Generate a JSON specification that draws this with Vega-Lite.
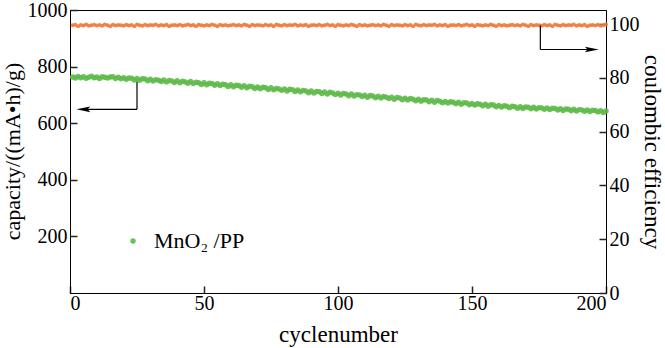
{
"$schema":"https://vega.github.io/schema/vega-lite/v6.json",
"width":536,"height":283,
"autosize":{"type":"none"},
"padding":{"left":70,"top":10,"right":59,"bottom":55},
"background":"white",
"config":{
"font":"Liberation Serif",
"view":{"stroke":"#000","strokeWidth":1},
"axis":{"labelFont":"Liberation Serif","titleFont":"Liberation Serif","labelFontSize":20,"titleFontSize":23,"labelColor":"#000","titleColor":"#000","titleFontWeight":"normal","domainColor":"#000","ticks":true,"tickColor":"#222","tickWidth":1.5,"tickSize":-7,"grid":false,"labelPadding":7,"format":"d"}
},
"datasets":{
"main":[
{"c":1,"cap":763,"ce":99.6},{"c":2,"cap":760,"ce":99.8},{"c":3,"cap":765,"ce":99.3},{"c":4,"cap":761,"ce":99.7},{"c":5,"cap":764,"ce":99.5},{"c":6,"cap":759,"ce":99.9},{"c":7,"cap":762,"ce":99.4},{"c":8,"cap":766,"ce":99.6},{"c":9,"cap":761,"ce":99.8},{"c":10,"cap":763,"ce":99.5},
{"c":11,"cap":758,"ce":99.7},{"c":12,"cap":764,"ce":99.4},{"c":13,"cap":762,"ce":99.9},{"c":14,"cap":760,"ce":99.6},{"c":15,"cap":763,"ce":99.3},{"c":16,"cap":764,"ce":99.8},{"c":17,"cap":758,"ce":99.5},{"c":18,"cap":762,"ce":99.7},{"c":19,"cap":757,"ce":99.6},{"c":20,"cap":761,"ce":99.4},
{"c":21,"cap":755,"ce":99.8},{"c":22,"cap":760,"ce":99.5},{"c":23,"cap":759,"ce":99.7},{"c":24,"cap":753,"ce":99.3},{"c":25,"cap":758,"ce":99.9},{"c":26,"cap":752,"ce":99.6},{"c":27,"cap":757,"ce":99.4},{"c":28,"cap":756,"ce":99.8},{"c":29,"cap":750,"ce":99.5},{"c":30,"cap":755,"ce":99.7},
{"c":31,"cap":749,"ce":99.6},{"c":32,"cap":754,"ce":99.9},{"c":33,"cap":752,"ce":99.4},{"c":34,"cap":747,"ce":99.7},{"c":35,"cap":753,"ce":99.5},{"c":36,"cap":746,"ce":99.8},{"c":37,"cap":751,"ce":99.3},{"c":38,"cap":749,"ce":99.6},{"c":39,"cap":744,"ce":99.7},{"c":40,"cap":750,"ce":99.5},
{"c":41,"cap":743,"ce":99.8},{"c":42,"cap":748,"ce":99.4},{"c":43,"cap":746,"ce":99.6},{"c":44,"cap":741,"ce":99.9},{"c":45,"cap":747,"ce":99.5},{"c":46,"cap":740,"ce":99.7},{"c":47,"cap":745,"ce":99.3},{"c":48,"cap":743,"ce":99.8},{"c":49,"cap":737,"ce":99.6},{"c":50,"cap":743,"ce":99.4},
{"c":51,"cap":736,"ce":99.7},{"c":52,"cap":741,"ce":99.5},{"c":53,"cap":740,"ce":99.9},{"c":54,"cap":734,"ce":99.6},{"c":55,"cap":739,"ce":99.3},{"c":56,"cap":733,"ce":99.8},{"c":57,"cap":738,"ce":99.5},{"c":58,"cap":736,"ce":99.7},{"c":59,"cap":730,"ce":99.4},{"c":60,"cap":736,"ce":99.6},
{"c":61,"cap":729,"ce":99.8},{"c":62,"cap":734,"ce":99.5},{"c":63,"cap":733,"ce":99.7},{"c":64,"cap":727,"ce":99.4},{"c":65,"cap":732,"ce":99.9},{"c":66,"cap":725,"ce":99.6},{"c":67,"cap":731,"ce":99.3},{"c":68,"cap":729,"ce":99.8},{"c":69,"cap":723,"ce":99.5},{"c":70,"cap":728,"ce":99.7},
{"c":71,"cap":722,"ce":99.6},{"c":72,"cap":727,"ce":99.4},{"c":73,"cap":725,"ce":99.8},{"c":74,"cap":719,"ce":99.5},{"c":75,"cap":725,"ce":99.7},{"c":76,"cap":718,"ce":99.3},{"c":77,"cap":723,"ce":99.9},{"c":78,"cap":721,"ce":99.6},{"c":79,"cap":716,"ce":99.4},{"c":80,"cap":721,"ce":99.8},
{"c":81,"cap":714,"ce":99.5},{"c":82,"cap":720,"ce":99.7},{"c":83,"cap":718,"ce":99.6},{"c":84,"cap":712,"ce":99.9},{"c":85,"cap":717,"ce":99.4},{"c":86,"cap":711,"ce":99.7},{"c":87,"cap":716,"ce":99.5},{"c":88,"cap":714,"ce":99.8},{"c":89,"cap":708,"ce":99.3},{"c":90,"cap":714,"ce":99.6},
{"c":91,"cap":707,"ce":99.7},{"c":92,"cap":712,"ce":99.5},{"c":93,"cap":711,"ce":99.8},{"c":94,"cap":705,"ce":99.4},{"c":95,"cap":710,"ce":99.6},{"c":96,"cap":703,"ce":99.9},{"c":97,"cap":709,"ce":99.5},{"c":98,"cap":707,"ce":99.7},{"c":99,"cap":701,"ce":99.3},{"c":100,"cap":706,"ce":99.8},
{"c":101,"cap":700,"ce":99.6},{"c":102,"cap":705,"ce":99.4},{"c":103,"cap":703,"ce":99.7},{"c":104,"cap":697,"ce":99.5},{"c":105,"cap":703,"ce":99.9},{"c":106,"cap":696,"ce":99.6},{"c":107,"cap":701,"ce":99.3},{"c":108,"cap":700,"ce":99.8},{"c":109,"cap":694,"ce":99.5},{"c":110,"cap":699,"ce":99.7},
{"c":111,"cap":692,"ce":99.4},{"c":112,"cap":698,"ce":99.6},{"c":113,"cap":696,"ce":99.8},{"c":114,"cap":690,"ce":99.5},{"c":115,"cap":695,"ce":99.7},{"c":116,"cap":689,"ce":99.4},{"c":117,"cap":694,"ce":99.9},{"c":118,"cap":692,"ce":99.6},{"c":119,"cap":687,"ce":99.3},{"c":120,"cap":692,"ce":99.8},
{"c":121,"cap":685,"ce":99.5},{"c":122,"cap":691,"ce":99.7},{"c":123,"cap":689,"ce":99.6},{"c":124,"cap":683,"ce":99.4},{"c":125,"cap":688,"ce":99.8},{"c":126,"cap":682,"ce":99.5},{"c":127,"cap":687,"ce":99.7},{"c":128,"cap":685,"ce":99.3},{"c":129,"cap":679,"ce":99.9},{"c":130,"cap":685,"ce":99.6},
{"c":131,"cap":678,"ce":99.4},{"c":132,"cap":683,"ce":99.8},{"c":133,"cap":682,"ce":99.5},{"c":134,"cap":676,"ce":99.7},{"c":135,"cap":681,"ce":99.6},{"c":136,"cap":674,"ce":99.9},{"c":137,"cap":680,"ce":99.4},{"c":138,"cap":678,"ce":99.7},{"c":139,"cap":672,"ce":99.5},{"c":140,"cap":677,"ce":99.8},
{"c":141,"cap":671,"ce":99.3},{"c":142,"cap":676,"ce":99.6},{"c":143,"cap":674,"ce":99.7},{"c":144,"cap":669,"ce":99.5},{"c":145,"cap":674,"ce":99.8},{"c":146,"cap":667,"ce":99.4},{"c":147,"cap":672,"ce":99.6},{"c":148,"cap":671,"ce":99.9},{"c":149,"cap":665,"ce":99.5},{"c":150,"cap":670,"ce":99.7},
{"c":151,"cap":664,"ce":99.3},{"c":152,"cap":669,"ce":99.8},{"c":153,"cap":667,"ce":99.6},{"c":154,"cap":662,"ce":99.4},{"c":155,"cap":667,"ce":99.7},{"c":156,"cap":660,"ce":99.5},{"c":157,"cap":665,"ce":99.9},{"c":158,"cap":664,"ce":99.6},{"c":159,"cap":658,"ce":99.3},{"c":160,"cap":663,"ce":99.8},
{"c":161,"cap":657,"ce":99.5},{"c":162,"cap":662,"ce":99.7},{"c":163,"cap":660,"ce":99.4},{"c":164,"cap":655,"ce":99.6},{"c":165,"cap":660,"ce":99.8},{"c":166,"cap":658,"ce":99.5},{"c":167,"cap":653,"ce":99.7},{"c":168,"cap":658,"ce":99.4},{"c":169,"cap":652,"ce":99.9},{"c":170,"cap":657,"ce":99.6},
{"c":171,"cap":656,"ce":99.3},{"c":172,"cap":651,"ce":99.8},{"c":173,"cap":656,"ce":99.5},{"c":174,"cap":650,"ce":99.7},{"c":175,"cap":655,"ce":99.6},{"c":176,"cap":654,"ce":99.4},{"c":177,"cap":649,"ce":99.8},{"c":178,"cap":654,"ce":99.5},{"c":179,"cap":648,"ce":99.7},{"c":180,"cap":653,"ce":99.3},
{"c":181,"cap":652,"ce":99.9},{"c":182,"cap":647,"ce":99.6},{"c":183,"cap":651,"ce":99.4},{"c":184,"cap":645,"ce":99.8},{"c":185,"cap":650,"ce":99.5},{"c":186,"cap":649,"ce":99.7},{"c":187,"cap":644,"ce":99.6},{"c":188,"cap":649,"ce":99.9},{"c":189,"cap":643,"ce":99.4},{"c":190,"cap":648,"ce":99.7},
{"c":191,"cap":647,"ce":99.5},{"c":192,"cap":642,"ce":99.8},{"c":193,"cap":647,"ce":99.3},{"c":194,"cap":641,"ce":99.6},{"c":195,"cap":646,"ce":99.7},{"c":196,"cap":645,"ce":99.5},{"c":197,"cap":640,"ce":99.8},{"c":198,"cap":644,"ce":99.4},{"c":199,"cap":638,"ce":99.6},{"c":200,"cap":643,"ce":99.9}
],
"leftArrow":[{"x1":25,"x2":25,"y1":748,"y2":649},{"x1":25,"x2":5,"y1":649,"y2":649}],
"leftHead":[{"x":5,"y":649}],
"rightArrow":[{"x1":175.5,"x2":175.5,"y1":99.5,"y2":90.6},{"x1":175.5,"x2":195,"y1":90.6,"y2":90.6}],
"rightHead":[{"x":194.7,"y":90.6}]
},
"layer":[
{"layer":[
{"data":{"name":"leftArrow"},"mark":{"type":"rule","color":"#000","strokeWidth":1.2},
"encoding":{"x":{"field":"x1","type":"quantitative"},"x2":{"field":"x2"},"y":{"field":"y1","type":"quantitative"},"y2":{"field":"y2"}}},
{"data":{"name":"leftHead"},"mark":{"type":"point","shape":"M-1,0L1,-0.4L0.6,0L1,0.4Z","filled":true,"color":"#000","size":196,"opacity":1},
"encoding":{"x":{"field":"x","type":"quantitative"},"y":{"field":"y","type":"quantitative"}}},
{"data":{"name":"main"},"mark":{"type":"point","filled":true,"shape":"circle","size":30,"opacity":0.9},
"encoding":{
"x":{"field":"c","type":"quantitative","scale":{"domain":[0,200],"nice":false},"axis":{"values":[0,50,100,150,200],"title":"cyclenumber","titlePadding":10}},
"y":{"field":"cap","type":"quantitative","scale":{"domain":[0,1000],"nice":false},"axis":{"orient":"left","values":[200,400,600,800,1000],"title":"capacity/((mA•h)/g)","titleFontSize":22,"titleX":-46,"titleY":141,"labelPadding":10}},
"color":{"datum":"MnO₂ /PP","scale":{"range":["#5fba4a"]},"legend":{"orient":"none","legendX":52,"legendY":220,"title":null,"symbolType":"circle","symbolSize":30,"labelFontSize":22,"labelFont":"Liberation Serif","labelColor":"#000","padding":0,"labelOffset":10}}
}}
]},
{"layer":[
{"data":{"name":"main"},"mark":{"type":"point","filled":true,"shape":"circle","size":16,"color":"#f27534","opacity":0.9},
"encoding":{
"x":{"field":"c","type":"quantitative"},
"y":{"field":"ce","type":"quantitative","scale":{"domain":[0,105.3],"nice":false},"axis":{"orient":"right","values":[0,20,40,60,80,100],"title":"coulombic efficiency","titlePadding":0,"labelPadding":10}}
}},
{"data":{"name":"rightArrow"},"mark":{"type":"rule","color":"#000","strokeWidth":1.2},
"encoding":{"x":{"field":"x1","type":"quantitative"},"x2":{"field":"x2"},"y":{"field":"y1","type":"quantitative"},"y2":{"field":"y2"}}},
{"data":{"name":"rightHead"},"mark":{"type":"point","shape":"M1,0L-1,-0.4L-0.6,0L-1,0.4Z","filled":true,"color":"#000","size":196,"opacity":1},
"encoding":{"x":{"field":"x","type":"quantitative"},"y":{"field":"y","type":"quantitative"}}}
]}
],
"resolve":{"scale":{"y":"independent"}}
}
